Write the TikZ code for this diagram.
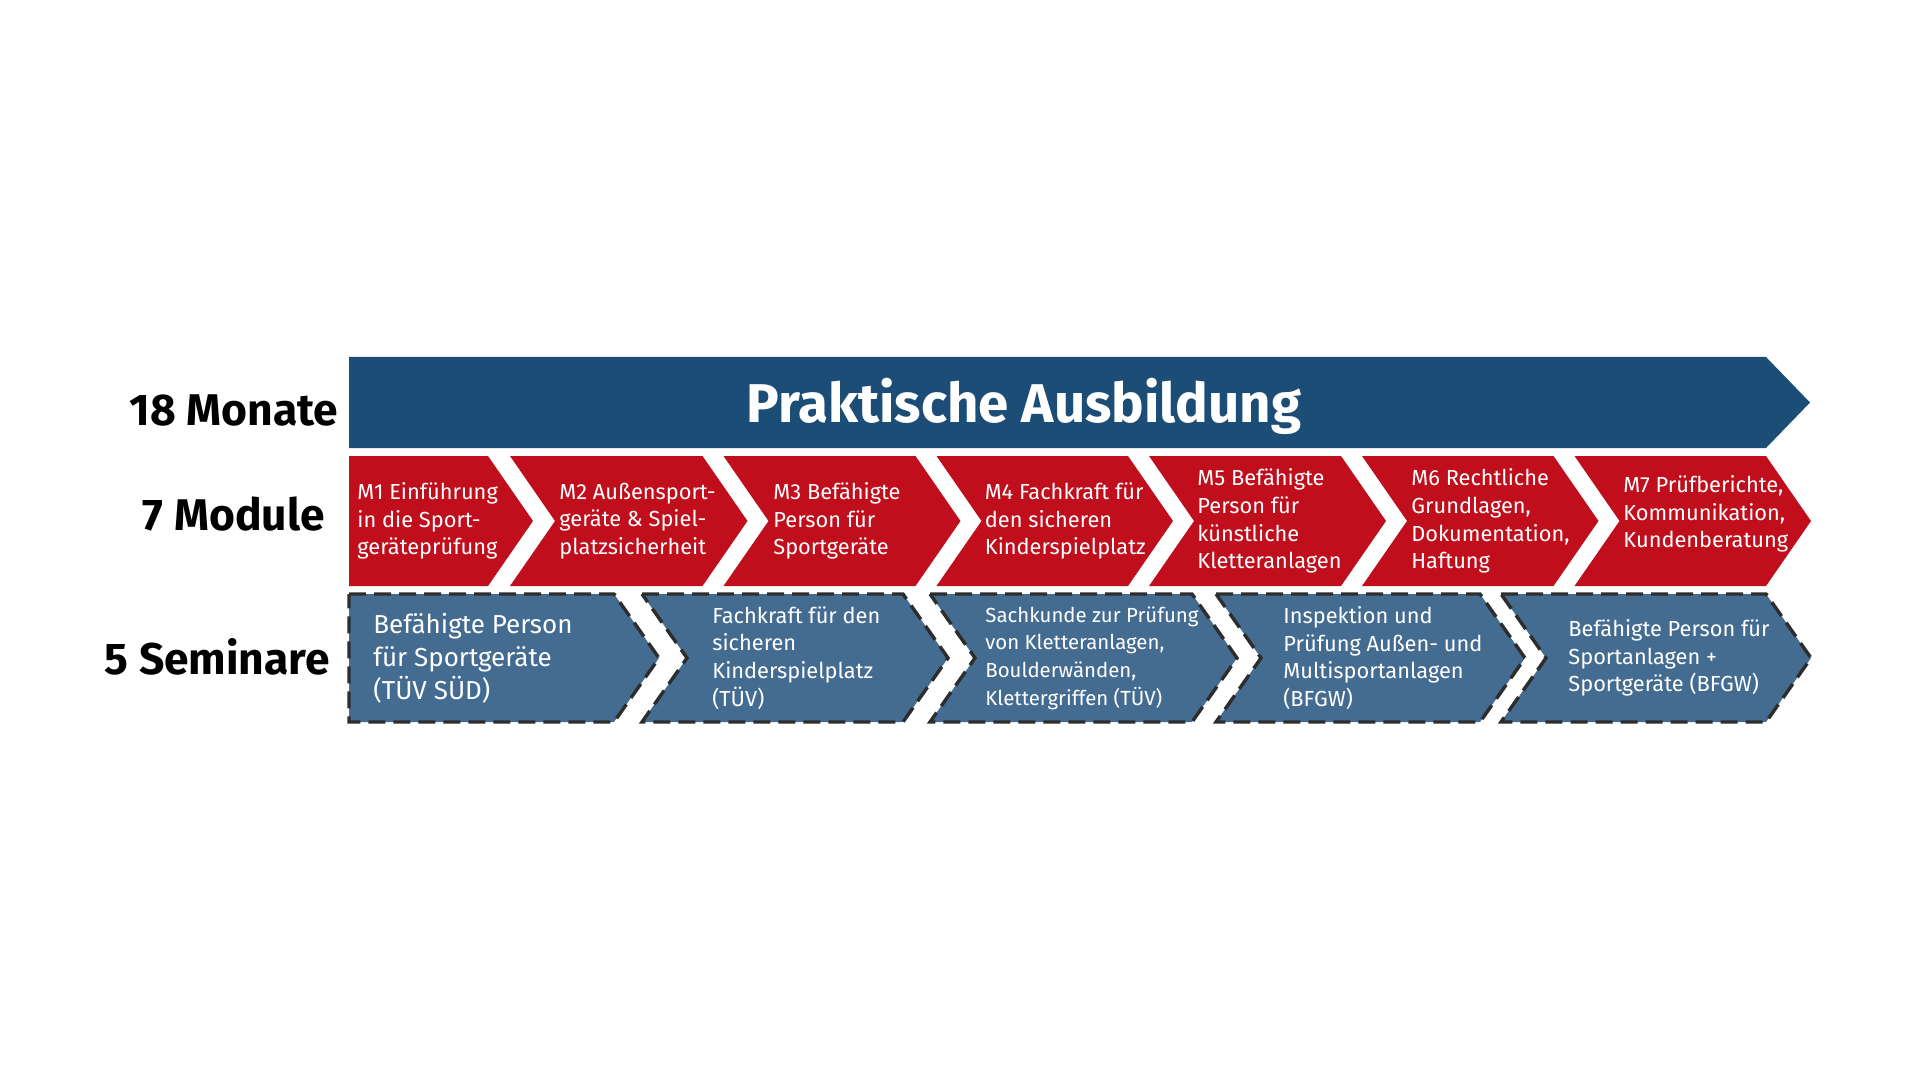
\documentclass[tikz,border=0pt]{standalone}
\usepackage{fontspec}
\setmainfont{Fira Sans}

\definecolor{bannerblue}{RGB}{27,77,118}
\definecolor{modred}{RGB}{193,14,29}
\definecolor{semblue}{RGB}{68,108,145}
\definecolor{semline}{RGB}{45,45,45}

\tikzset{
  rowlabel/.style={anchor=base, inner sep=0pt, text=black, font=\fontsize{22.2}{26}\selectfont\bfseries},
  bannertext/.style={anchor=base, inner sep=0pt, text=white, font=\fontsize{27.3}{32}\selectfont\bfseries},
  modtext/.style={anchor=west, align=left, inner sep=0pt, text=white, font=\fontsize{10.9}{13.85}\selectfont},
  semtext/.style={modtext},
  smallsemtext/.style={modtext, font=\fontsize{10.2}{13.85}\selectfont},
  bigsemtext/.style={modtext, font=\fontsize{13}{16.5}\selectfont},
  modshape/.style={fill=modred},
  semshape/.style={fill=semblue, draw=semline, line width=1.7pt, dash pattern=on 8.5pt off 4pt},
}

\begin{document}
\begin{tikzpicture}[x=0.5pt, y=-0.5pt]
    \useasboundingbox (0,0) rectangle (1920,1080);
    \fill[white] (0,0) rectangle (1920,1080);

    % Banner
    \fill[bannerblue] (349,357) -- (1766,357) -- (1810,402.5) -- (1766,448) -- (349,448) -- cycle;
    \node[bannertext] (ausbildung) at (1024,422.7) {Praktische Ausbildung};

    % Module arrows
    \fill[modshape] (349,456) -- (488,456) -- (533,521) -- (488,586) -- (349,586) -- cycle;
    \foreach \l/\r in {510/702.5, 723.5/915.5, 936.5/1128, 1149/1341, 1362/1553.5, 1574.5/1766}
        \fill[modshape] (\l,456) -- (\r,456) -- (\r+45,521) -- (\r,586) -- (\l,586) -- (\l+45,521) -- cycle;

    % Seminar arrows
    \draw[semshape] (349,594) -- (614,594) -- (659,658) -- (614,722) -- (349,722) -- cycle;
    \foreach \l/\r in {642/903, 930/1192, 1216/1480, 1501/1766}
        \draw[semshape] (\l,594) -- (\r,594) -- (\r+45,658) -- (\r,722) -- (\l,722) -- (\l+45,658) -- cycle;

    % Row labels
    \node[rowlabel] (monate) at (234,425) {18 Monate};
    \node[rowlabel] (module) at (233.7,530) {7 Module};
    \node[rowlabel] (seminare) at (217.3,674) {5 Seminare};

    % Module texts
    \node[modtext] (m1) at (357,521) {M1 Einführung\\in die Sport-\\geräteprüfung};
    \node[modtext] (m2) at (559,521) {M2 Außensport-\\geräte \& Spiel-\\platzsicherheit};
    \node[modtext] (m3) at (773,521) {M3 Befähigte\\Person für\\Sportgeräte};
    \node[modtext] (m4) at (984.5,521) {M4 Fachkraft für\\den sicheren\\Kinderspielplatz};
    \node[modtext] (m5) at (1197,521) {M5 Befähigte\\Person für\\künstliche\\Kletteranlagen};
    \node[modtext] (m6) at (1411,521) {M6 Rechtliche\\Grundlagen,\\Dokumentation,\\Haftung};
    \node[modtext] (m7) at (1623,514) {M7 Prüfberichte,\\Kommunikation,\\Kundenberatung};

    % Seminar texts
    \node[bigsemtext] (s1) at (373,658) {Befähigte Person\\für Sportgeräte\\(TÜV SÜD)};
    \node[semtext] (s2) at (712,658) {Fachkraft für den\\sicheren\\Kinderspielplatz\\(TÜV)};
    \node[smallsemtext] (s3) at (985,658) {Sachkunde zur Prüfung\\von Kletteranlagen,\\Boulderwänden,\\Klettergriffen (TÜV)};
    \node[semtext] (s4) at (1283,658) {Inspektion und\\Prüfung Außen- und\\Multisportanlagen\\(BFGW)};
    \node[semtext] (s5) at (1568,658) {Befähigte Person für\\Sportanlagen +\\Sportgeräte (BFGW)};
\end{tikzpicture}
\end{document}
